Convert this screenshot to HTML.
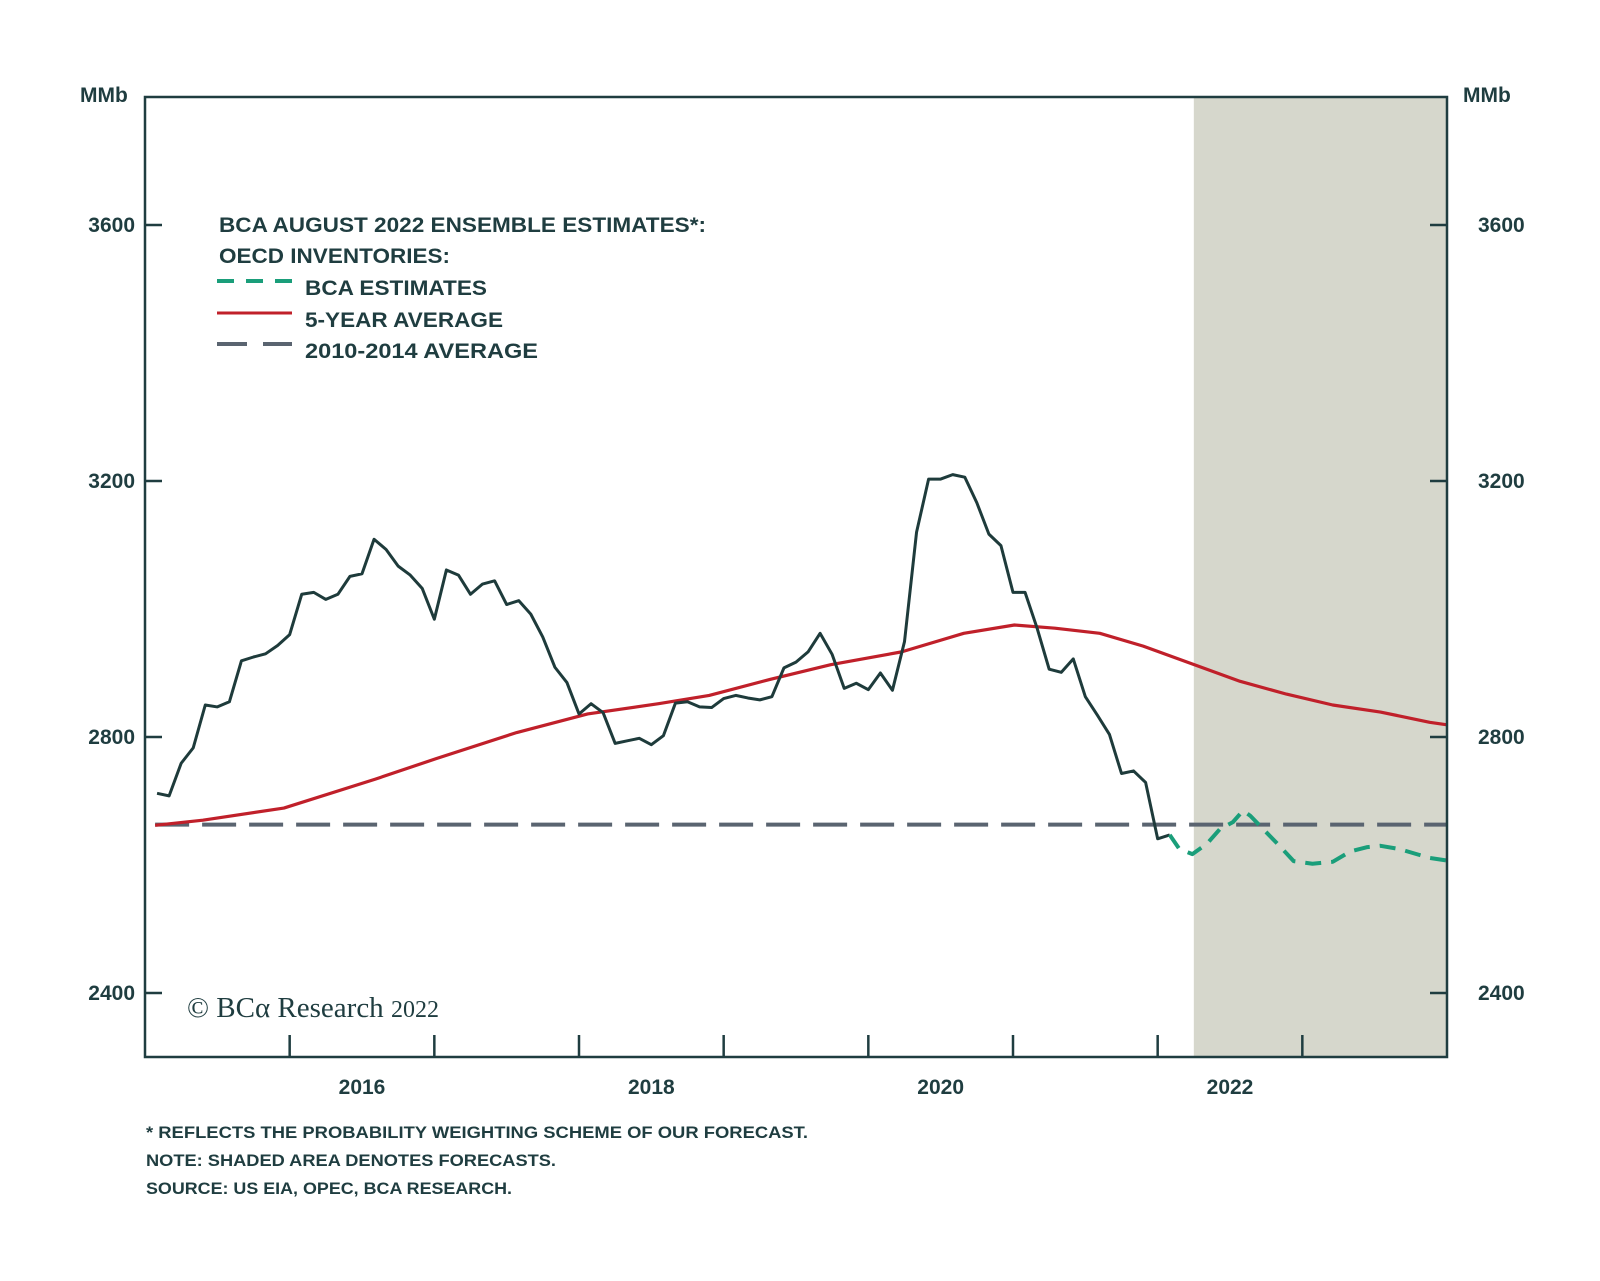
<!DOCTYPE html>
<html><head><meta charset="utf-8"><style>
html,body{margin:0;padding:0;background:#fff;}
svg{display:block;}
text{font-family:"Liberation Sans",sans-serif;fill:#1f3d40;}
</style></head><body>
<svg id="chart" width="1600" height="1281" viewBox="0 0 1600 1281" xmlns="http://www.w3.org/2000/svg"></svg>
<script>
// ---- data ----
const yTicks = [2400, 2800, 3200, 3600];
const xTickYears = [2016, 2017, 2018, 2019, 2020, 2021, 2022, 2023];
const xLabels = ["2016", "2018", "2020", "2022"];
const xLabelYears = [2016.5, 2018.5, 2020.5, 2022.5];
const forecastStart = 2022.25;
const histStart = 2015 + 1/12;
const histValues = [2712,2708,2759,2783,2850,2847,2855,2919,2925,2930,2943,2960,3023,3026,3015,3023,3051,3055,3109,3093,3067,3053,3032,2984,3061,3053,3023,3039,3044,3007,3013,2992,2956,2909,2885,2836,2852,2838,2790,2794,2798,2788,2802,
2853,2855,2847,2846,2860,2865,2861,2858,2863,2908,2917,2933,2962,2929,2876,2884,2874,2900,2873,2949,3120,3203,3203,3210,3206,3166,3117,3099,3026,3026,2970,2906,2901,2922,2863,2834,2804,2743,2747,2729,2641,2647];
const bcaDates = [2022.15,2022.24,2022.34,2022.43,2022.52,2022.59,2022.64,2022.73,2022.85,2022.94,2023.07,2023.21,2023.33,2023.45,2023.54,2023.67,2023.79,2023.88,2024.0];
const bcaValues = [2625,2617,2633,2656,2667,2685,2677,2656,2628,2606,2602,2605,2621,2628,2630,2625,2617,2611,2607];
const avgDates = [2015.07,2015.40,2015.96,2016.59,2017.01,2017.57,2018.06,2018.55,2018.90,2019.32,2019.74,2020.23,2020.66,2021.01,2021.29,2021.60,2021.90,2022.24,2022.57,2022.89,2023.21,2023.54,2023.88,2024.0];
const avgValues = [2662,2670,2689,2734,2766,2807,2836,2852,2865,2890,2913,2933,2962,2975,2970,2962,2942,2914,2887,2867,2850,2839,2823,2819];
const avg1014 = 2663;

// ---- axes ----
const L=145, R=1447, T=97, B=1057;
const x = t => L + (t-2015)/(2024-2015)*(R-L);
const y = v => B - (v-2300)/(3800-2300)*(B-T);
const svg = document.getElementById('chart');
const NS='http://www.w3.org/2000/svg';
function mk(tag, attrs, parent){const e=document.createElementNS(NS,tag);for(const k in attrs)e.setAttribute(k,attrs[k]);(parent||svg).appendChild(e);return e;}

// shading
const shade = mk('rect',{x:x(forecastStart),y:T,width:R-x(forecastStart),height:B-T,fill:'#d6d7cc'});



// y ticks & labels
yTicks.forEach(v=>{
  const t1=mk('line',{x1:L,x2:L+17,y1:y(v),y2:y(v),stroke:'#1f3d40','stroke-width':2.5});
  
  
  const t2=mk('line',{x1:R-17,x2:R,y1:y(v),y2:y(v),stroke:'#1f3d40','stroke-width':2.5});
  
  
  const a=mk('text',{x:135,y:y(v)+7,'text-anchor':'end','font-size':21,'font-weight':'bold'});
  a.textContent=v;
  
  
  const b=mk('text',{x:1478,y:y(v)+7,'font-size':21,'font-weight':'bold'});
  b.textContent=v;
  
  
});
// x ticks
xTickYears.forEach(t=>{
  const l=mk('line',{x1:x(t),x2:x(t),y1:B-22,y2:B,stroke:'#1f3d40','stroke-width':2.5});
  
  
});
xLabels.forEach((s,i)=>{
  const e=mk('text',{x:x(xLabelYears[i]),y:1094,'text-anchor':'middle','font-size':21,'font-weight':'bold'});
  e.textContent=s;
  
  
});

// 2010-2014 average dashed
const d=mk('line',{x1:x(avgDates[0]),x2:R,y1:y(avg1014),y2:y(avg1014),stroke:'#5a6470','stroke-width':4,'stroke-dasharray':'34 13'});



// 5-year average
const redPts = avgDates.map((t,i)=>x(t)+','+y(avgValues[i])).join(' ');
const red=mk('polyline',{points:redPts,fill:'none',stroke:'#c0202a','stroke-width':3.2,'stroke-linejoin':'round'});



// history
const histPts = histValues.map((v,i)=>x(histStart+i/12)+','+y(v)).join(' ');
const hist=mk('polyline',{points:histPts,fill:'none',stroke:'#1e3b3b','stroke-width':3,'stroke-linejoin':'round'});



// BCA estimates
const lastT = histStart+(histValues.length-1)/12, lastV = histValues[histValues.length-1];
const gPts = [x(lastT)+','+y(lastV)].concat(bcaDates.map((t,i)=>x(t)+','+y(bcaValues[i]))).join(' ');
const g=mk('polyline',{points:gPts,fill:'none',stroke:'#1a9e7a','stroke-width':4,'stroke-dasharray':'16 10','stroke-linejoin':'round'});



// frame
const f=mk('rect',{x:L,y:T,width:R-L,height:B-T,fill:'none',stroke:'#1f3d40','stroke-width':2.5});


</script>
<svg style="position:absolute;left:0;top:0" width="1600" height="1281">
  <text x="80" y="102" font-size="21" font-weight="bold">MMb</text>
  <text x="1463" y="102" font-size="21" font-weight="bold">MMb</text>
  <g>
    <text x="219" y="232" font-size="21" font-weight="bold" textLength="487" lengthAdjust="spacingAndGlyphs">BCA AUGUST 2022 ENSEMBLE ESTIMATES*:</text>
    <text x="219" y="263" font-size="21" font-weight="bold" textLength="231" lengthAdjust="spacingAndGlyphs">OECD INVENTORIES:</text>
    <line x1="217" x2="292" y1="281" y2="281" stroke="#1a9e7a" stroke-width="4" stroke-dasharray="17 12"/>
    <text x="305" y="295" font-size="21" font-weight="bold" textLength="182" lengthAdjust="spacingAndGlyphs">BCA ESTIMATES</text>
    <line x1="217" x2="292" y1="313" y2="313" stroke="#c0202a" stroke-width="3"/>
    <text x="305" y="327" font-size="21" font-weight="bold" textLength="198" lengthAdjust="spacingAndGlyphs">5-YEAR AVERAGE</text>
    <line x1="217" x2="292" y1="344" y2="344" stroke="#5a6470" stroke-width="4" stroke-dasharray="30 16"/>
    <text x="305" y="358" font-size="21" font-weight="bold" textLength="233" lengthAdjust="spacingAndGlyphs">2010-2014 AVERAGE</text>
  </g>
  <text x="187" y="1017" font-family="Liberation Serif, serif" font-size="29" style="font-family:'Liberation Serif',serif">© BCα Research <tspan font-size="24">2022</tspan></text>
  <text x="146" y="1138" font-size="17" font-weight="bold" textLength="662" lengthAdjust="spacingAndGlyphs">* REFLECTS THE PROBABILITY WEIGHTING SCHEME OF OUR FORECAST.</text>
  <text x="146" y="1166" font-size="17" font-weight="bold" textLength="410" lengthAdjust="spacingAndGlyphs">NOTE: SHADED AREA DENOTES FORECASTS.</text>
  <text x="146" y="1194" font-size="17" font-weight="bold" textLength="366" lengthAdjust="spacingAndGlyphs">SOURCE: US EIA, OPEC, BCA RESEARCH.</text>
</svg>
</body></html>
